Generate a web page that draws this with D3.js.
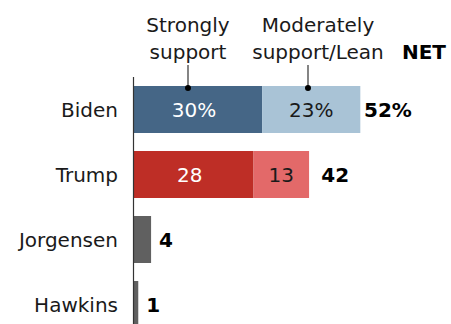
<!DOCTYPE html>
<html>
<head>
<meta charset="utf-8">
<script src="https://cdn.jsdelivr.net/npm/d3@7"></script>
<style>
  body { margin: 0; background: #fff; }
  svg { display: block; }
  text { font-family: "DejaVu Sans", sans-serif; }
</style>
</head>
<body>
<svg width="451" height="324"></svg>
<script>
var svg = d3.select("svg");

// Data
var candidates = ["Biden", "Trump", "Jorgensen", "Hawkins"];
var strongly = [30, 28, 4, 1];
var moderately = [23, 13, 0, 0];
var net = [52, 42, 4, 1];
var netLabels = ["52%", "42", "4", "1"];
var strongLabels = ["30%", "28", "", ""];
var modLabels = ["23%", "13", "", ""];

// Colours
var strongColors = ["#456686", "#be2e26", "#606060", "#606060"];
var modColors = ["#a9c3d6", "#e36969", "#606060", "#606060"];

// Scales
var xScale = d3.scaleLinear().domain([0, 100]).range([134, 561]);
var yScale = d3.scaleBand().domain(candidates).range([77, 337])
    .paddingInner(18 / 65).paddingOuter(9 / 65);

var rows = candidates.map(function (c, i) {
    return { name: c, s: strongly[i], m: moderately[i], net: net[i], i: i };
});

// Bars
var rowG = svg.selectAll(".row").data(rows).enter().append("g")
    .attr("class", "row");

rowG.append("rect")
    .attr("x", xScale(0))
    .attr("y", d => yScale(d.name))
    .attr("width", d => xScale(d.s) - xScale(0))
    .attr("height", yScale.bandwidth())
    .attr("fill", d => strongColors[d.i]);

rowG.filter(d => d.m > 0).append("rect")
    .attr("x", d => xScale(d.s))
    .attr("y", d => yScale(d.name))
    .attr("width", d => xScale(d.s + d.m) - xScale(d.s))
    .attr("height", yScale.bandwidth())
    .attr("fill", d => modColors[d.i]);

// Segment labels
rowG.append("text")
    .attr("x", d => (xScale(0) + xScale(d.s)) / 2 - 4)
    .attr("y", d => yScale(d.name) + yScale.bandwidth() / 2)
    .attr("dy", "0.36em")
    .attr("text-anchor", "middle")
    .attr("fill", "#fff")
    .style("font-size", "20px")
    .text(d => strongLabels[d.i]);

rowG.append("text")
    .attr("x", d => (xScale(d.s) + xScale(d.s + d.m)) / 2)
    .attr("y", d => yScale(d.name) + yScale.bandwidth() / 2)
    .attr("dy", "0.36em")
    .attr("text-anchor", "middle")
    .attr("fill", "#1a1a1a")
    .style("font-size", "20px")
    .text(d => modLabels[d.i]);

// NET labels
rowG.append("text")
    .attr("x", d => xScale(d.net) + 8)
    .attr("y", d => yScale(d.name) + yScale.bandwidth() / 2)
    .attr("dy", "0.36em")
    .attr("fill", "#000")
    .style("font-size", "20px")
    .style("font-weight", "bold")
    .text(d => netLabels[d.i]);

// Category labels
rowG.append("text")
    .attr("x", 118)
    .attr("y", d => yScale(d.name) + yScale.bandwidth() / 2)
    .attr("dy", "0.36em")
    .attr("text-anchor", "end")
    .attr("fill", "#1a1a1a")
    .style("font-size", "20px")
    .text(d => d.name);

// Axis line
svg.append("line")
    .attr("x1", 133.5).attr("x2", 133.5)
    .attr("y1", 77).attr("y2", 324)
    .attr("stroke", "#333")
    .attr("stroke-width", 1.2);

// Legend headers
var legend = [
    { lines: ["Strongly", "support"], cx: 188, tick: 188 },
    { lines: ["Moderately", "support/Lean"], cx: 318, tick: 308 }
];

legend.forEach(function (l) {
    var t = svg.append("text")
        .attr("text-anchor", "middle")
        .attr("fill", "#1a1a1a")
        .style("font-size", "20px");
    l.lines.forEach(function (ln, k) {
        t.append("tspan").attr("x", l.cx).attr("y", 32 + k * 27).text(ln);
    });
    svg.append("line")
        .attr("x1", l.tick).attr("x2", l.tick)
        .attr("y1", 65).attr("y2", 88)
        .attr("stroke", "#333")
        .attr("stroke-width", 1.2);
    svg.append("circle")
        .attr("cx", l.tick).attr("cy", 88)
        .attr("r", 3)
        .attr("fill", "#000");
});

svg.append("text")
    .attr("x", 446)
    .attr("y", 59)
    .attr("text-anchor", "end")
    .attr("fill", "#000")
    .style("font-size", "20px")
    .style("font-weight", "bold")
    .text("NET");
</script>
</body>
</html>
